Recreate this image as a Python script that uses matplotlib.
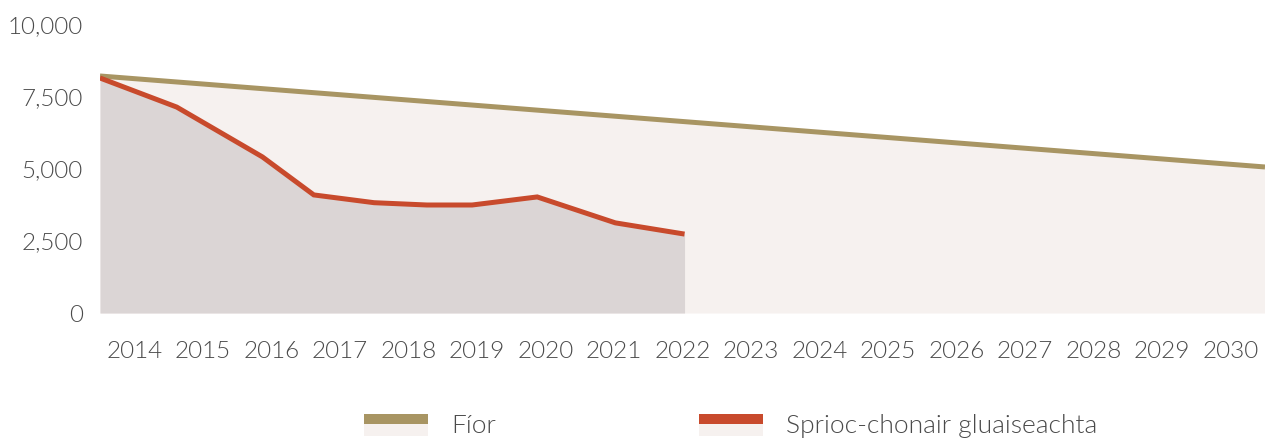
import matplotlib
matplotlib.use("Agg")
import matplotlib.pyplot as plt
from matplotlib.patches import Rectangle
from matplotlib.legend_handler import HandlerBase
from matplotlib.ticker import FuncFormatter

plt.rcParams['font.family'] = ['Lato', 'DejaVu Sans']
plt.rcParams['font.weight'] = 300

# Data
years = [str(y) for y in range(2014, 2031)]
fior_x = [0.0, 17.0]
fior_y = [8230, 5070]
sprioc_x = [0.0, 1.12, 2.37, 3.12, 4.0, 4.77, 5.43, 6.38, 7.52, 8.53]
sprioc_y = [8160, 7150, 5420, 4100, 3830, 3750, 3750, 4030, 3130, 2740]
yticks = [0, 2500, 5000, 7500, 10000]

c_tan = '#a89563'
c_red = '#c84a2c'
c_light = '#f6f1ef'
c_gray = '#dbd5d5'
c_text = '#4a4a4a'

fig = plt.figure(figsize=(12.65, 4.41), dpi=100)
ax = fig.add_axes([100/1265, 1-313/441, 1165/1265, 288/441])

ax.fill_between(fior_x, fior_y, 0, color=c_light, lw=0, zorder=1)
ax.fill_between(sprioc_x, sprioc_y, 0, color=c_gray, lw=0, zorder=2)
ax.plot(fior_x, fior_y, color=c_tan, lw=3.6, zorder=3, solid_capstyle='butt')
ax.plot(sprioc_x, sprioc_y, color=c_red, lw=3.6, zorder=4, solid_capstyle='butt', solid_joinstyle='miter')

ax.set_xlim(0, 17)
ax.set_ylim(0, 10000)
ax.set_xticks([i + 0.5 for i in range(len(years))])
ax.set_xticklabels(years)
ax.set_yticks(yticks)
ax.yaxis.set_major_formatter(FuncFormatter(lambda v, p: f"{int(v):,}"))
ax.tick_params(axis='both', length=0, labelsize=17.5, labelcolor=c_text)
ax.tick_params(axis='x', pad=20)
ax.tick_params(axis='y', pad=12.5)
for s in ax.spines.values():
    s.set_visible(False)


class TwoTone(HandlerBase):
    def __init__(self, color):
        super().__init__()
        self.color = color

    def create_artists(self, legend, orig_handle, xdescent, ydescent, width, height, fontsize, trans):
        top = Rectangle((-xdescent, -ydescent + height / 2), width, height / 2,
                        facecolor=self.color, edgecolor='none', transform=trans)
        bot = Rectangle((-xdescent, -ydescent - height * 0.1), width, height * 0.6,
                        facecolor=c_light, edgecolor='none', transform=trans)
        return [bot, top]


h1 = Rectangle((0, 0), 1, 1)
h2 = Rectangle((0, 0), 1, 1)
leg = fig.legend([h1, h2], ['Fíor', 'Sprioc-chonair gluaiseachta'],
                 handler_map={h1: TwoTone(c_tan), h2: TwoTone(c_red)},
                 loc='center', bbox_to_anchor=(731/1265, 1-426/441), ncol=2,
                 frameon=False, fontsize=19, handlelength=2.4, handleheight=0.8,
                 handletextpad=0.9, columnspacing=7.7)
for t in leg.get_texts():
    t.set_color(c_text)

fig.savefig('out.png', dpi=100)
